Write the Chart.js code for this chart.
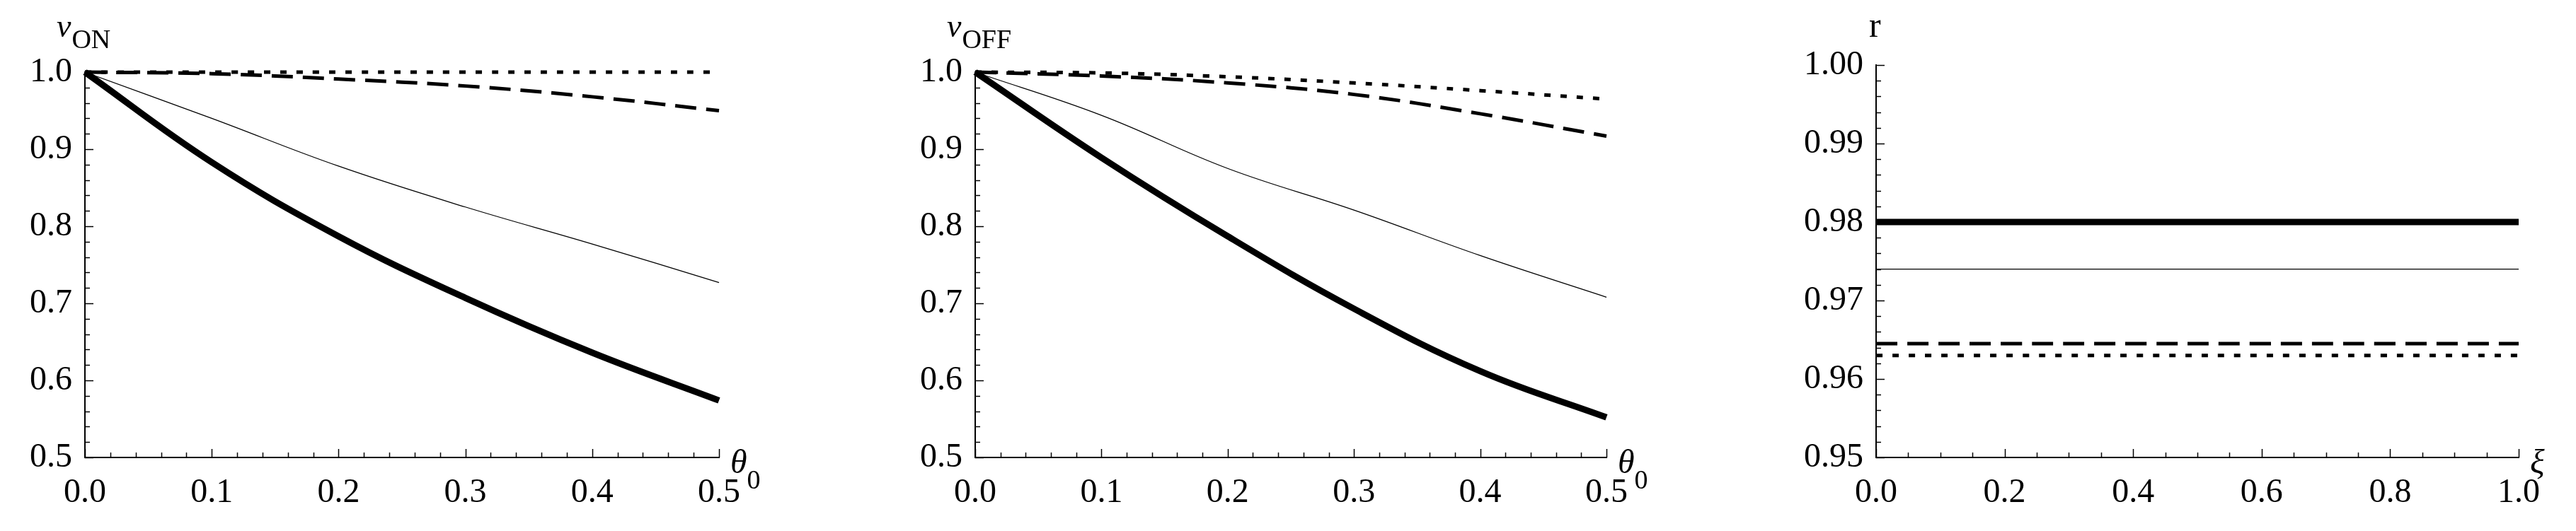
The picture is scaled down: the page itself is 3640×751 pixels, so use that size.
<!DOCTYPE html>
<html><head><meta charset="utf-8">
<script src="https://cdn.jsdelivr.net/npm/chart.js@4"></script>
<style>body{margin:0;background:#fff;width:3640px;height:751px;position:relative;overflow:hidden}canvas{position:absolute;top:0}</style>
</head><body>
<canvas id="c1" style="left:0"></canvas>
<canvas id="c2" style="left:1258px"></canvas>
<canvas id="c3" style="left:2531px"></canvas>
<script>
// Data
const theta = [0, 0.1, 0.2, 0.3, 0.4, 0.5];
const onThick  = [1.0, 0.883, 0.787, 0.707, 0.636, 0.574];
const onThin   = [1.0, 0.940, 0.878, 0.825, 0.777, 0.727];
const onDash   = [1.0, 0.998, 0.991, 0.982, 0.968, 0.950];
const onDot    = [1.0, 1.0, 1.0, 1.0, 1.0, 1.0];
const offThick = [1.0, 0.889, 0.787, 0.693, 0.612, 0.552];
const offThin  = [1.0, 0.944, 0.875, 0.821, 0.762, 0.708];
const offDash  = [1.0, 0.995, 0.986, 0.971, 0.946, 0.917];
const offDot   = [1.0, 0.999, 0.994, 0.986, 0.976, 0.965];
const xi = [0, 1];
const rThick = [0.980, 0.980];
const rThin  = [0.974, 0.974];
const rDash  = [0.9645, 0.9645];
const rDot   = [0.963, 0.963];
const ticks1X = [0, 0.1, 0.2, 0.3, 0.4, 0.5];
const ticks1Y = [0.5, 0.6, 0.7, 0.8, 0.9, 1.0];
const ticks3X = [0, 0.2, 0.4, 0.6, 0.8, 1.0];
const ticks3Y = [0.95, 0.96, 0.97, 0.98, 0.99, 1.00];

const FONT = '"Liberation Serif", "DejaVu Serif", serif';
const styles = [
  {borderWidth: 9, borderDash: []},
  {borderWidth: 1.3, borderDash: []},
  {borderWidth: 5, borderDash: [30, 14]},
  {borderWidth: 5, borderDash: [9, 14]}
];
function mkData(xs, arrs){
  return arrs.map((a,i)=>({data: xs.map((x,j)=>({x, y:a[j]})), borderColor:'#000',
    borderWidth: styles[i].borderWidth, borderDash: styles[i].borderDash, pointRadius:0,
    tension:0.4, fill:false, clip:false, borderCapStyle:'butt'}));
}
function make(id, W, padL, padR, padT, axisW, axisH, xs, arrs, xr, yr, xt, yt, xMinor, yMinor, dec, ytitle, xtitle, xtitleSub){
  const cv = document.getElementById(id);
  cv.width = W; cv.height = 751; cv.style.width = W+'px'; cv.style.height='751px';
  const deco = {id:'deco', afterDraw(ch){
    const c = ch.ctx, xs_ = ch.scales.x, ys_ = ch.scales.y, a = ch.chartArea;
    c.save(); c.strokeStyle='#000'; c.lineWidth=1.5;
    for(let v=xr[0]; v<=xr[1]+1e-9; v+=xMinor){
      const major = xt.some(t=>Math.abs(t-v)<1e-6);
      const px = Math.round(xs_.getPixelForValue(v))+0.5;
      c.beginPath(); c.moveTo(px,a.bottom); c.lineTo(px,a.bottom-(major?12:7)); c.stroke();
    }
    for(let v=yr[0]; v<=yr[1]+1e-9; v+=yMinor){
      const major = yt.some(t=>Math.abs(t-v)<1e-6);
      const py = Math.round(ys_.getPixelForValue(v))+0.5;
      c.beginPath(); c.moveTo(a.left,py); c.lineTo(a.left+(major?12:7),py); c.stroke();
    }
    c.fillStyle='#000'; c.textBaseline='alphabetic';
    if (ytitle[1]) {
      c.font = 'italic 46px '+FONT; c.fillText(ytitle[0], a.left-40, 52);
      const w = c.measureText(ytitle[0]).width;
      c.font = '38px '+FONT; c.fillText(ytitle[1], a.left-40+w+1, 68);
    } else {
      c.font = '50px '+FONT; c.fillText(ytitle[0], a.left-10, 52);
    }
    c.font = 'italic 48px '+FONT; c.fillText(xtitle, a.right+16, a.bottom+22);
    if (xtitleSub){ const w=c.measureText(xtitle).width; c.font='38px '+FONT; c.fillText(xtitleSub, a.right+16+w, a.bottom+44); }
    c.restore();
  }};
  new Chart(cv, {type:'line', data:{datasets: mkData(xs, arrs)},
    options:{responsive:false, animation:false, events:[],
      layout:{padding:{left:padL, right:padR, top:padT, bottom:0}},
      plugins:{legend:{display:false}, tooltip:{enabled:false}},
      scales:{
        x:{type:'linear', min:xr[0], max:xr[1], afterFit(s){s.height=axisH;},
           afterBuildTicks(s){s.ticks = xt.map(v=>({value:v}));},
           grid:{display:false, drawTicks:false}, border:{display:true, color:'#000', width:2},
           ticks:{color:'#000', padding:22, maxRotation:0, font:{family:FONT, size:48}, callback:v=>v.toFixed(1)}},
        y:{type:'linear', min:yr[0], max:yr[1], afterFit(s){s.width=axisW;},
           afterBuildTicks(s){s.ticks = yt.map(v=>({value:v}));},
           grid:{display:false, drawTicks:false}, border:{display:true, color:'#000', width:2},
           ticks:{color:'#000', padding:18, font:{family:FONT, size:48}, callback:v=>v.toFixed(dec)}}
      }}, plugins:[deco]});
}
make('c1', 1100, 0, 84, 102, 120, 104, theta, [onThick,onThin,onDash,onDot], [0,0.5],[0.5,1.0], ticks1X, ticks1Y, 0.02, 0.02, 1, ['v','ON'], 'θ', '0');
make('c2', 1100, 0, 1100-(2270-1258), 102, 120, 104, theta, [offThick,offThin,offDash,offDot], [0,0.5],[0.5,1.0], ticks1X, ticks1Y, 0.02, 0.02, 1, ['v','OFF'], 'θ', '0');
make('c3', 1109, 0, 1109-(3559-2531), 92, 120, 104, xi, [rThick,rThin,rDash,rDot], [0,1],[0.95,1.0], ticks3X, ticks3Y, 0.05, 0.002, 2, ['r',''], 'ξ', '');
</script>
</body></html>
